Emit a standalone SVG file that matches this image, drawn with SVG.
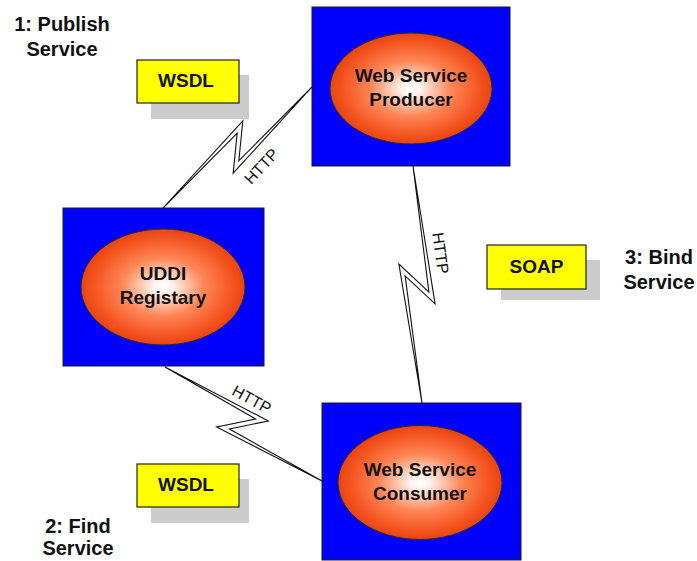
<svg xmlns="http://www.w3.org/2000/svg" width="697" height="561" viewBox="0 0 697 561">
  <defs>
    <radialGradient id="glow" cx="50%" cy="50%" r="50%">
      <stop offset="0" stop-color="#ffffff"/>
      <stop offset="0.12" stop-color="#fff2ec"/>
      <stop offset="0.5" stop-color="#ff8657"/>
      <stop offset="0.85" stop-color="#f45420"/>
      <stop offset="1" stop-color="#e84413"/>
    </radialGradient>
    <style>
      .box { fill: #0000ff; stroke: #1a1a1a; stroke-width: 1; }
      .oval { fill: url(#glow); stroke: #2a2a2a; stroke-width: 1; }
      .note { fill: #ffff00; stroke: #222; stroke-width: 1.2; }
      .shadow { fill: #cccccc; }
      .bolt { fill: #ffffff; stroke: #111; stroke-width: 1.1; stroke-linejoin: miter; }
      .lbl { font-family: "Liberation Sans", Arial, sans-serif; font-weight: bold; font-size: 19px; fill: #111; text-anchor: middle; }
      .step { font-family: "Liberation Sans", Arial, sans-serif; font-weight: bold; font-size: 20px; fill: #111; text-anchor: middle; }
      .http { font-family: "Liberation Sans", Arial, sans-serif; font-size: 16px; fill: #111; text-anchor: middle; }
    </style>
  </defs>

  <!-- HTTP comm links (lightning bolts) -->
  <g id="connectors">
    <g id="link-registry-producer">
      <polygon class="bolt" points="312,87 238.83,160.83 242.83,120.83 163,208 237.17,133.17 233.17,173.17"/>
      <text class="http" transform="translate(261,166) rotate(-47)" y="6">HTTP</text>
    </g>
    <g id="link-producer-consumer">
      <polygon class="bolt" points="413,166 428.93,292.13 398.88,264.08 422,403 405.12,275.92 435.07,303.87"/>
      <text class="http" transform="translate(441,253) rotate(82)" y="6">HTTP</text>
    </g>
    <g id="link-registry-consumer">
      <polygon class="bolt" points="165,367 255.67,419.05 216.6,427.07 322,481 229.4,428.93 268.33,420.95"/>
      <text class="http" transform="translate(252,399) rotate(28.6)" y="6">HTTP</text>
    </g>
  </g>

  <g id="producer">
    <rect class="box" x="312" y="7" width="198" height="159"/>
    <ellipse class="oval" cx="411" cy="88.5" rx="81" ry="55.5"/>
    <text class="lbl" x="411" y="81.5">Web Service</text>
    <text class="lbl" x="411" y="105.5">Producer</text>
  </g>

  <g id="registry">
    <rect class="box" x="63" y="208" width="201" height="158"/>
    <ellipse class="oval" cx="163" cy="287" rx="82" ry="58"/>
    <text class="lbl" x="163" y="280">UDDI</text>
    <text class="lbl" x="163" y="304">Registary</text>
  </g>

  <g id="consumer">
    <rect class="box" x="322" y="403" width="199" height="157"/>
    <ellipse class="oval" cx="420" cy="482.5" rx="82" ry="57"/>
    <text class="lbl" x="420" y="475.5">Web Service</text>
    <text class="lbl" x="420" y="499.5">Consumer</text>
  </g>

  <g id="wsdl-publish">
    <rect class="shadow" x="151" y="75" width="98" height="44"/>
    <rect class="note" x="137" y="60" width="102" height="43"/>
    <text class="lbl" x="186" y="87">WSDL</text>
  </g>

  <g id="wsdl-find">
    <rect class="shadow" x="151" y="479" width="98" height="44"/>
    <rect class="note" x="137" y="464" width="102" height="43"/>
    <text class="lbl" x="186" y="491">WSDL</text>
  </g>

  <g id="soap-bind">
    <rect class="shadow" x="501" y="260" width="99" height="40"/>
    <rect class="note" x="487" y="245" width="99" height="44"/>
    <text class="lbl" x="536.5" y="273">SOAP</text>
  </g>

  <g id="step-publish">
    <text class="step" x="62" y="31">1: Publish</text>
    <text class="step" x="62" y="56">Service</text>
  </g>

  <g id="step-find">
    <text class="step" x="78" y="533">2: Find</text>
    <text class="step" x="78" y="555">Service</text>
  </g>

  <g id="step-bind">
    <text class="step" x="659" y="264">3: Bind</text>
    <text class="step" x="659" y="289">Service</text>
  </g>
</svg>
